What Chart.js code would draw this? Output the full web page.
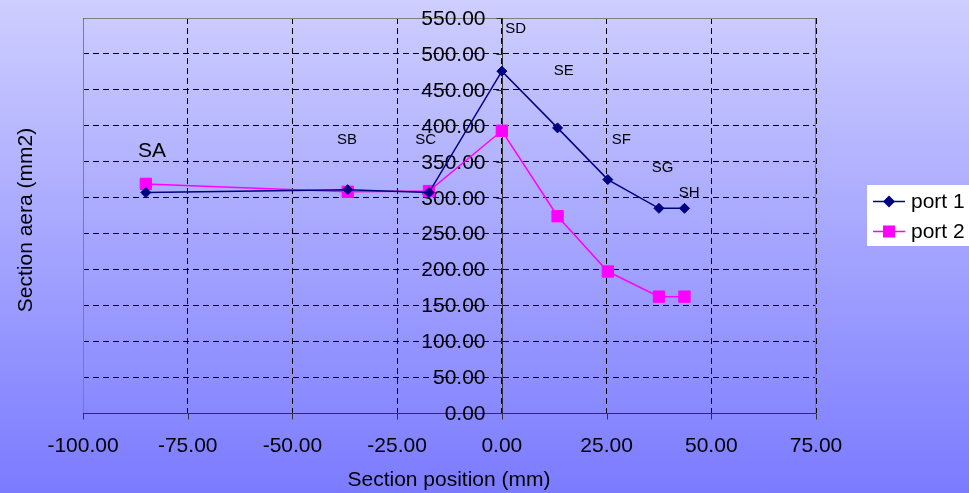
<!DOCTYPE html>
<html>
<head>
<meta charset="utf-8">
<script src="https://cdn.jsdelivr.net/npm/chart.js@4/dist/chart.umd.min.js"></script>
<style>
  html, body { margin: 0; padding: 0; }
  body {
    width: 969px; height: 493px; overflow: hidden;
    background: linear-gradient(to bottom, #ceceff 0%, #7b7bff 100%);
  }
  canvas { display: block; }
</style>
</head>
<body>
<canvas id="chart" width="969" height="493"></canvas>
<script>
// section names and their positions (mm)
const sections = ['SA', 'SB', 'SC', 'SD', 'SE', 'SF', 'SG', 'SH'];
const positions = [-85, -36.8, -17.4, 0, 13.3, 25.3, 37.5, 43.6];
const port1 = [307, 311, 307, 476, 397, 325, 285, 285];
const port2 = [319, 308, 309, 393, 274, 197, 162, 162];

// where the section names sit (data units)
const labelX = [-83.5, -37.0, -18.2, 3.3, 14.8, 28.5, 38.4, 44.7];
const labelY = [365, 380, 380, 535, 476, 380, 342, 306];

const xTicks = [-100, -75, -50, -25, 0, 25, 50, 75];
const yTicks = [0, 50, 100, 150, 200, 250, 300, 350, 400, 450, 500, 550];

const FONT = 'Arial, "Liberation Sans", sans-serif';

function points(ys) {
  return positions.map(function (x, i) { return { x: x, y: ys[i] }; });
}

const frame = {
  id: 'frame',
  beforeDatasetsDraw: function (chart) {
    const a = chart.chartArea, ctx = chart.ctx;
    const xs = chart.scales.x, ys = chart.scales.y;
    ctx.save();
    ctx.strokeStyle = '#808080';
    ctx.lineWidth = 1;
    ctx.beginPath();
    ctx.moveTo(a.left + 0.5, a.bottom);
    ctx.lineTo(a.left + 0.5, a.top + 0.5);
    ctx.lineTo(a.right - 0.5, a.top + 0.5);
    ctx.lineTo(a.right - 0.5, a.bottom);
    ctx.stroke();

    // solid axis lines
    const x0 = Math.round(xs.getPixelForValue(0)) + 0.5;
    const yb = Math.round(a.bottom) + 0.5;
    ctx.strokeStyle = '#333';
    ctx.beginPath();
    ctx.moveTo(a.left, yb); ctx.lineTo(a.right, yb);
    ctx.moveTo(x0, a.top); ctx.lineTo(x0, yb);
    // x tick marks below the axis
    xTicks.forEach(function (v) {
      const x = Math.round(xs.getPixelForValue(v)) + 0.5;
      ctx.moveTo(x, yb); ctx.lineTo(x, yb + 6);
    });
    ctx.stroke();

    // y axis tick marks and labels, left of the x = 0 line
    ctx.fillStyle = '#000';
    ctx.font = '21px ' + FONT;
    ctx.textAlign = 'right';
    ctx.textBaseline = 'middle';
    yTicks.forEach(function (v) {
      const y = Math.round(ys.getPixelForValue(v)) + 0.5;
      ctx.beginPath();
      ctx.moveTo(x0 - 6, y);
      ctx.lineTo(x0, y);
      ctx.stroke();
      ctx.fillText(v.toFixed(2), x0 - 17, y + 1);
    });
    ctx.restore();
  }
};

const extras = {
  id: 'extras',
  afterDraw: function (chart) {
    const ctx = chart.ctx;
    const xs = chart.scales.x, ys = chart.scales.y;
    ctx.save();
    ctx.fillStyle = '#000';
    ctx.textAlign = 'center';
    ctx.textBaseline = 'middle';

    // section names
    sections.forEach(function (s, i) {
      ctx.font = (i === 0 ? 21 : 15) + 'px ' + FONT;
      ctx.fillText(s, xs.getPixelForValue(labelX[i]), ys.getPixelForValue(labelY[i]));
    });

    // axis titles
    ctx.font = '21px ' + FONT;
    ctx.fillText('Section position (mm)', 449, 480);
    ctx.save();
    ctx.translate(26, 220);
    ctx.rotate(-Math.PI / 2);
    ctx.fillText('Section aera (mm2)', 0, 0);
    ctx.restore();

    // legend
    ctx.fillStyle = '#fff';
    ctx.fillRect(867, 185, 102, 61);
    chart.data.datasets.forEach(function (ds, i) {
      const y = 201.5 + i * 30;
      ctx.strokeStyle = ds.borderColor;
      ctx.lineWidth = 1.5;
      ctx.beginPath();
      ctx.moveTo(873, y);
      ctx.lineTo(905, y);
      ctx.stroke();
      ctx.fillStyle = ds.pointBackgroundColor;
      ctx.beginPath();
      if (ds.pointStyle === 'rectRot') {
        ctx.moveTo(889, y - 6); ctx.lineTo(895, y); ctx.lineTo(889, y + 6); ctx.lineTo(883, y);
      } else {
        ctx.rect(883, y - 6, 12, 12);
      }
      ctx.fill();
      ctx.fillStyle = '#000';
      ctx.textAlign = 'left';
      ctx.font = '21px ' + FONT;
      ctx.fillText(ds.label, 911, y + 1);
    });
    ctx.restore();
  }
};

new Chart(document.getElementById('chart'), {
  type: 'line',
  data: {
    datasets: [{
      label: 'port 1',
      data: points(port1),
      borderColor: '#000080',
      backgroundColor: '#000080',
      pointBackgroundColor: '#000080',
      pointBorderColor: '#000080',
      pointStyle: 'rectRot',
      pointRadius: 5,
      pointBorderWidth: 1,
      borderWidth: 1.5,
      tension: 0
    }, {
      label: 'port 2',
      data: points(port2),
      borderColor: '#ff00ff',
      backgroundColor: '#ff00ff',
      pointBackgroundColor: '#ff00ff',
      pointBorderColor: '#ff00ff',
      pointStyle: 'rect',
      pointRadius: 8,
      pointBorderWidth: 1,
      borderWidth: 1.5,
      tension: 0
    }]
  },
  options: {
    responsive: false,
    animation: false,
    layout: { padding: { left: 83, right: 153, top: 18, bottom: 0 } },
    plugins: { legend: { display: false }, tooltip: { enabled: false } },
    scales: {
      x: {
        type: 'linear',
        position: 'bottom',
        min: xTicks[0],
        max: xTicks[xTicks.length - 1],
        afterBuildTicks: function (scale) {
          scale.ticks = xTicks.map(function (v) { return { value: v }; });
        },
        afterFit: function (scale) { scale.height = 80; },
        ticks: {
          color: '#000',
          padding: 15,
          font: { family: FONT, size: 21 },
          callback: function (v) { return Number(v).toFixed(2); }
        },
        grid: { color: '#000', lineWidth: 1, tickLength: 6, tickColor: 'rgba(0,0,0,0)' },
        border: { display: false, dash: [6, 4] }
      },
      y: {
        type: 'linear',
        position: { x: 0 },
        min: yTicks[0],
        max: yTicks[yTicks.length - 1],
        afterBuildTicks: function (scale) {
          scale.ticks = yTicks.map(function (v) { return { value: v }; });
        },
        ticks: { display: false },
        afterFit: function (scale) { scale.width = 0; },
        grid: { color: '#000', lineWidth: 1, drawTicks: false },
        border: { display: false, dash: [6, 4] }
      }
    }
  },
  plugins: [frame, extras]
});
</script>
</body>
</html>
